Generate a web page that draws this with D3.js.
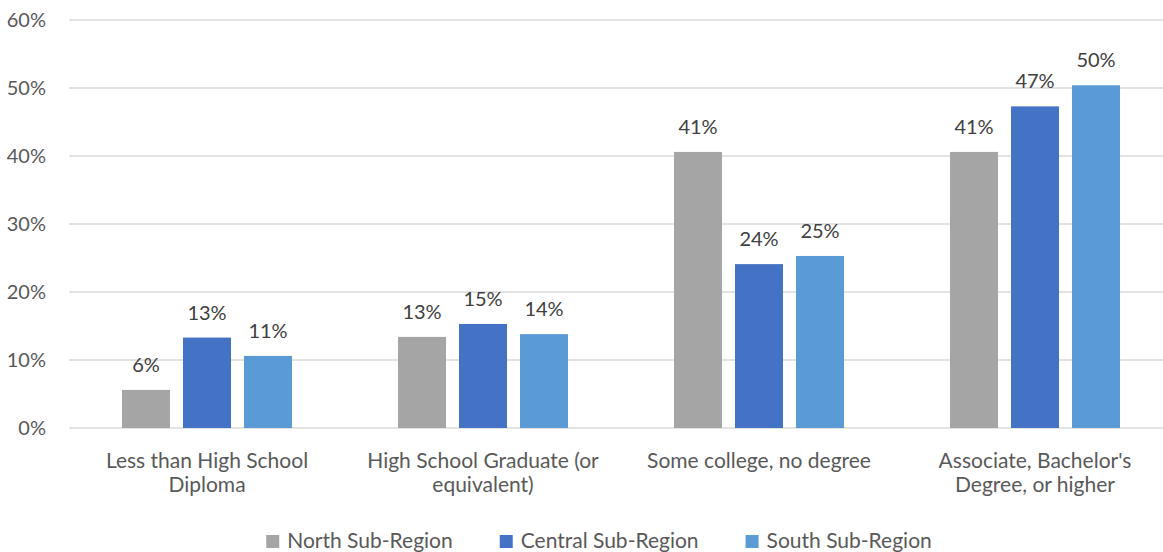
<!DOCTYPE html>
<html>
<head>
<meta charset="utf-8">
<script src="https://cdn.jsdelivr.net/npm/d3@7"></script>
<style>
  html, body { margin: 0; padding: 0; background: #fff; }
  svg { display: block; font-family: Lato, "Open Sans", sans-serif; }
</style>
</head>
<body>
<svg id="chart" width="1163" height="552"></svg>
<script>
const categories = [
  "Less than High School Diploma",
  "High School Graduate (or equivalent)",
  "Some college, no degree",
  "Associate, Bachelor's Degree, or higher"
];
const seriesNames = ["North Sub-Region", "Central Sub-Region", "South Sub-Region"];
const seriesColors = ["#a5a5a5", "#4472c4", "#5b9bd5"];
const northValues = [5.6, 13.4, 40.6, 40.6];
const centralValues = [13.3, 15.3, 24.1, 47.3];
const southValues = [10.6, 13.8, 25.3, 50.4];
const yTicks = [0, 10, 20, 30, 40, 50, 60];

const seriesValues = [northValues, centralValues, southValues];
const data = categories.map((c, i) => ({
  category: c,
  values: seriesNames.map((s, j) => ({ series: s, value: seriesValues[j][i], color: seriesColors[j] }))
}));

const svg = d3.select("#chart");
const plotLeft = 69, plotRight = 1173, plotTop = 20, plotBottom = 428;
const numFont = "20px", textFont = "21px";

const x0 = d3.scaleBand().domain(categories).range([plotLeft, plotRight]).padding(0);
const x1 = d3.scaleBand().domain(seriesNames)
  .range([53, x0.bandwidth() - 53]).paddingInner(0.213).paddingOuter(0);
const y = d3.scaleLinear().domain([0, 60]).range([plotBottom, plotTop]);

// gridlines
svg.append("g").selectAll("line").data(yTicks).join("line")
  .attr("x1", plotLeft).attr("x2", 1163)
  .attr("y1", d => y(d)).attr("y2", d => y(d))
  .attr("stroke", "#d9d9d9").attr("stroke-width", 1.3);

// y axis labels
const yAxis = d3.axisLeft(y).tickValues(yTicks).tickFormat(d => d + "%").tickSize(0).tickPadding(0);
const yg = svg.append("g").attr("transform", `translate(46,0)`).call(yAxis);
yg.select(".domain").remove();
yg.selectAll("text").attr("fill", "#595959").style("font-size", numFont)
  .style("font-family", "Lato, 'Open Sans', sans-serif").attr("dy", "0.34em");

// bars
const groups = svg.append("g").selectAll("g").data(data).join("g")
  .attr("transform", d => `translate(${x0(d.category)},0)`);
groups.selectAll("rect").data(d => d.values).join("rect")
  .attr("x", d => x1(d.series))
  .attr("width", x1.bandwidth())
  .attr("y", d => y(d.value))
  .attr("height", d => y(0) - y(d.value))
  .attr("fill", d => d.color);
groups.selectAll("text").data(d => d.values).join("text")
  .attr("x", d => x1(d.series) + x1.bandwidth() / 2)
  .attr("y", d => y(d.value) - 18)
  .attr("text-anchor", "middle")
  .attr("fill", "#404040")
  .style("font-size", numFont)
  .text(d => Math.round(d.value) + "%");

// x axis labels
const xAxis = d3.axisBottom(x0).tickSize(0).tickPadding(0);
const xg = svg.append("g").attr("transform", `translate(0,${plotBottom})`).call(xAxis);
xg.select(".domain").remove();
xg.selectAll("text")
  .attr("fill", "#595959").style("font-size", textFont)
  .style("font-family", "Lato, 'Open Sans', sans-serif")
  .attr("y", 40).attr("dy", 0)
  .each(function(d) { wrap(d3.select(this), 250); });

function wrap(text, width) {
  const words = text.text().split(/\s+/);
  text.text(null);
  let line = [];
  let lineNo = 0;
  let tspan = text.append("tspan").attr("x", 0).attr("y", 40);
  words.forEach(w => {
    line.push(w);
    tspan.text(line.join(" "));
    if (tspan.node().getComputedTextLength() > width && line.length > 1) {
      line.pop();
      tspan.text(line.join(" "));
      line = [w];
      lineNo++;
      tspan = text.append("tspan").attr("x", 0).attr("y", 40 + lineNo * 24).text(w);
    }
  });
}

// legend
const legend = svg.append("g");
const items = legend.selectAll("g").data(seriesNames).join("g");
items.append("rect").attr("width", 13).attr("height", 13).attr("y", -13)
  .attr("fill", (d, i) => seriesColors[i]);
items.append("text").attr("x", 21).attr("y", 0).attr("fill", "#595959")
  .style("font-size", textFont).text(d => d);
const legendGap = 47;
let offset = 0;
const positions = [];
items.each(function() {
  positions.push(offset);
  const w = 21 + d3.select(this).select("text").node().getComputedTextLength();
  offset += w + legendGap;
});
const totalW = offset - legendGap;
const startX = 599 - totalW / 2;
items.attr("transform", (d, i) => `translate(${startX + positions[i]},548)`);
</script>
</body>
</html>
